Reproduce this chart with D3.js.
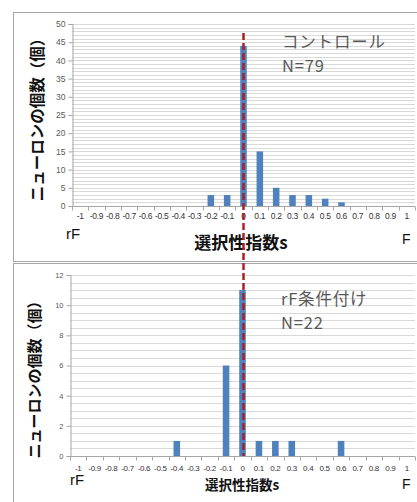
<!DOCTYPE html>
<html>
<head>
<meta charset="utf-8">
<script src="https://cdn.jsdelivr.net/npm/d3@7"></script>
<style>
  html, body { margin: 0; padding: 0; background: #fff; }
  svg { display: block; }
</style>
</head>
<body>
<svg id="chart" width="417" height="502"></svg>
<script>
// Selectivity-index bins (-1 .. 1 in steps of 0.1)
const categories = ["-1","-0.9","-0.8","-0.7","-0.6","-0.5","-0.4","-0.3","-0.2","-0.1","0",
                    "0.1","0.2","0.3","0.4","0.5","0.6","0.7","0.8","0.9","1"];

// Neuron counts per bin
const controlCounts = [0,0,0,0,0,0,0,0,3,3,44,15,5,3,3,2,1,0,0,0,0];
const conditionedCounts = [0,0,0,0,0,0,1,0,0,6,11,1,1,1,0,0,1,0,0,0,0];

// Y tick labels
const controlTicks = [0,5,10,15,20,25,30,35,40,45,50];
const conditionedTicks = [0,2,4,6,8,10,12];

const yTitle = "ニューロンの個数（個）";
const xTitle = "選択性指数s";

const svg = d3.select("#chart");
const jp = "'Noto Sans CJK JP', sans-serif";
const num = "'Liberation Sans', Arial, sans-serif";
const barColor = "#4f81bd";

svg.append("rect").attr("width", 417).attr("height", 502).attr("fill", "#fff");

// Panel frames
svg.append("rect").attr("x", 13.5).attr("y", 12.5).attr("width", 420).attr("height", 249)
  .attr("fill", "none").attr("stroke", "#a6a6a6").attr("stroke-width", 1);
svg.append("rect").attr("x", 13.5).attr("y", 263.5).attr("width", 420).attr("height", 260)
  .attr("fill", "none").attr("stroke", "#a6a6a6").attr("stroke-width", 1);

function panel(cfg) {
  const g = svg.append("g");
  const x = d3.scaleBand().domain(categories).range([cfg.left, cfg.right]).paddingInner(0.6).paddingOuter(0.3);
  const xb = d3.scaleBand().domain(categories).range([cfg.left, cfg.right]);
  const y = d3.scaleLinear().domain([0, cfg.max]).range([cfg.bottom, cfg.top]);

  // Minor gridlines
  g.append("g").selectAll("line").data(d3.range(cfg.gridStep, cfg.max + 1e-9, cfg.gridStep))
    .join("line")
    .attr("x1", cfg.left).attr("x2", cfg.right)
    .attr("y1", d => Math.round(y(d)) + 0.5).attr("y2", d => Math.round(y(d)) + 0.5)
    .attr("stroke", "#d9d9d9").attr("stroke-width", 1);

  // Y axis
  const yAxis = d3.axisLeft(y).tickValues(cfg.ticks).tickSize(4).tickPadding(3);
  const ya = g.append("g").attr("transform", `translate(${cfg.left + 0.5},0)`).call(yAxis);
  ya.select(".domain").attr("stroke", "#a6a6a6");
  ya.selectAll(".tick line").attr("stroke", "#a6a6a6");
  ya.selectAll(".tick text").attr("font-family", num).attr("font-size", cfg.yTickSize)
    .attr("fill", "#595959");

  // Bars
  g.append("g").selectAll("rect").data(categories.map((c, i) => ({ c, v: cfg.values[i] })))
    .join("rect")
    .attr("x", d => x(d.c)).attr("width", x.bandwidth())
    .attr("y", d => y(d.v)).attr("height", d => y(0) - y(d.v))
    .attr("fill", barColor);

  // X axis with ticks at bin boundaries
  const xa = g.append("g").attr("transform", `translate(0,${Math.round(y(0)) + 0.5})`);
  xa.append("line").attr("x1", cfg.left).attr("x2", cfg.right).attr("stroke", "#a6a6a6");
  xa.selectAll("line.tk").data(d3.range(categories.length + 1)).join("line").attr("class", "tk")
    .attr("x1", i => Math.round(cfg.left + i * xb.step()) + 0.5)
    .attr("x2", i => Math.round(cfg.left + i * xb.step()) + 0.5)
    .attr("y1", 0).attr("y2", 4).attr("stroke", "#a6a6a6");
  xa.selectAll("text").data(categories).join("text")
    .attr("x", d => xb(d) + xb.bandwidth() / 2).attr("y", cfg.xLabelDy)
    .attr("text-anchor", "middle").attr("font-family", num).attr("font-size", cfg.xTickSize)
    .attr("letter-spacing", -0.3).attr("fill", "#333").text(d => d);

  // Axis titles and end labels
  g.append("text").attr("transform", `translate(${cfg.yTitleX},${cfg.yTitleY}) rotate(-90)`)
    .attr("text-anchor", "middle").attr("font-family", jp).attr("font-weight", 700)
    .attr("font-size", cfg.yTitleSize).attr("fill", "#111").text(yTitle);
  g.append("text").attr("x", cfg.xTitleX).attr("y", cfg.xTitleY).attr("text-anchor", "middle")
    .attr("font-family", jp).attr("font-weight", 700).attr("font-size", cfg.xTitleSize)
    .attr("fill", "#111").text(xTitle);
  g.append("text").attr("x", cfg.rFX).attr("y", cfg.endY).attr("font-family", num)
    .attr("font-size", cfg.endSize).attr("fill", "#111").text("rF");
  g.append("text").attr("x", cfg.FX).attr("y", cfg.endY + cfg.FDy).attr("font-family", num)
    .attr("font-size", cfg.endSize - 1).attr("fill", "#111").text("F");

  // Condition label
  cfg.notes.forEach((t, i) => {
    g.append("text").attr("x", cfg.noteX).attr("y", cfg.noteY + i * 24)
      .attr("font-family", jp).attr("font-size", 16.5).attr("letter-spacing", 0.8)
      .attr("fill", "#595959").text(t);
  });
  return { x, y };
}

const controlPanel = panel({
  values: controlCounts, max: 50, ticks: controlTicks, gridStep: 1,
  left: 72, right: 415, top: 24, bottom: 206,
  yTickSize: 8.5, xTickSize: 8.5, xLabelDy: 12,
  yTitleX: 43, yTitleY: 116, yTitleSize: 15.5,
  xTitleX: 241, xTitleY: 249, xTitleSize: 17,
  rFX: 66, FX: 402, endY: 239, FDy: 5, endSize: 15,
  notes: ["コントロール", "N=79"], noteX: 282, noteY: 48
});

const conditionedPanel = panel({
  values: conditionedCounts, max: 12, ticks: conditionedTicks, gridStep: 0.5,
  left: 70, right: 415, top: 275, bottom: 456,
  yTickSize: 7.5, xTickSize: 8, xLabelDy: 14,
  yTitleX: 40, yTitleY: 376, yTitleSize: 15,
  xTitleX: 242, xTitleY: 490, xTitleSize: 13.5,
  rFX: 70, FX: 402, endY: 485, FDy: 4, endSize: 15,
  notes: ["rF条件付け", "N=22"], noteX: 281, noteY: 305
});

// Dashed reference line at s = 0 across both panels
const x0 = controlPanel.x("0") + controlPanel.x.bandwidth() / 2;
svg.append("line").attr("x1", x0).attr("x2", x0).attr("y1", 33).attr("y2", 456)
  .attr("stroke", "#a8202a").attr("stroke-width", 2.5).attr("stroke-dasharray", "7,3");
</script>
</body>
</html>
